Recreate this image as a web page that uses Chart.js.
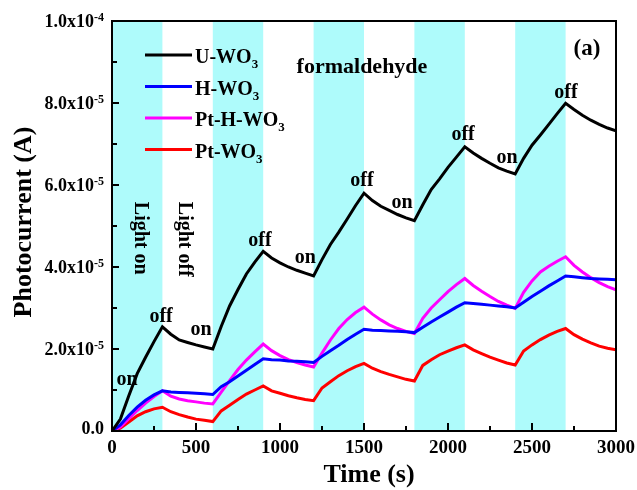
<!DOCTYPE html>
<html>
<head>
<meta charset="utf-8">
<title>Photocurrent vs time</title>
<script src="https://cdn.jsdelivr.net/npm/chart.js@4.4.0/dist/chart.umd.min.js"></script>
<style>
  html, body { margin: 0; padding: 0; background: #fff; }
  #wrap { width: 637px; height: 490px; }
</style>
</head>
<body>
<div id="wrap"><canvas id="photoChart" width="637" height="490"></canvas></div>
<script>
// sampling times (s)
const times = [0, 50, 100, 150, 200, 250, 300, 350, 400, 450, 500, 550, 600,
  650, 700, 750, 800, 850, 900, 950, 1000, 1050, 1100, 1150, 1200,
  1250, 1300, 1350, 1400, 1450, 1500, 1550, 1600, 1650, 1700, 1750, 1800,
  1850, 1900, 1950, 2000, 2050, 2100, 2150, 2200, 2250, 2300, 2350, 2400,
  2450, 2500, 2550, 2600, 2650, 2700, 2750, 2800, 2850, 2900, 2950, 3000];

// photocurrent, in units of 1e-5 A
const uWO3 = [0, 0.29, 0.86, 1.40, 1.80, 2.18, 2.54, 2.36, 2.22, 2.16, 2.10, 2.05, 2.00,
  2.55, 3.05, 3.45, 3.83, 4.12, 4.38, 4.22, 4.10, 4.00, 3.92, 3.85, 3.78,
  4.18, 4.55, 4.85, 5.17, 5.50, 5.80, 5.62, 5.48, 5.38, 5.28, 5.20, 5.13,
  5.52, 5.89, 6.15, 6.43, 6.68, 6.93, 6.78, 6.65, 6.53, 6.42, 6.34, 6.27,
  6.65, 6.97, 7.22, 7.48, 7.74, 7.99, 7.84, 7.70, 7.58, 7.48, 7.39, 7.32];
const hWO3 = [0, 0.15, 0.38, 0.58, 0.75, 0.88, 0.98, 0.95, 0.94, 0.93, 0.92, 0.91, 0.89,
  1.08, 1.20, 1.34, 1.48, 1.62, 1.76, 1.74, 1.73, 1.71, 1.70, 1.69, 1.67,
  1.82, 1.96, 2.09, 2.23, 2.36, 2.48, 2.46, 2.45, 2.44, 2.43, 2.42, 2.40,
  2.53, 2.66, 2.78, 2.90, 3.02, 3.13, 3.11, 3.09, 3.07, 3.05, 3.03, 3.00,
  3.14, 3.28, 3.41, 3.54, 3.66, 3.78, 3.76, 3.74, 3.72, 3.71, 3.70, 3.69];
const ptHWO3 = [0, 0.10, 0.30, 0.50, 0.68, 0.84, 0.98, 0.85, 0.78, 0.74, 0.71, 0.68, 0.66,
  0.95, 1.23, 1.50, 1.73, 1.93, 2.12, 1.96, 1.84, 1.74, 1.67, 1.61, 1.56,
  1.90, 2.22, 2.50, 2.72, 2.89, 3.02, 2.85, 2.71, 2.59, 2.50, 2.43, 2.38,
  2.75, 3.00, 3.20, 3.40, 3.57, 3.72, 3.55, 3.41, 3.28, 3.16, 3.07, 2.99,
  3.38, 3.66, 3.88, 4.02, 4.14, 4.25, 4.04, 3.88, 3.74, 3.62, 3.52, 3.44];
const ptWO3 = [0, 0.07, 0.22, 0.37, 0.47, 0.54, 0.58, 0.47, 0.40, 0.34, 0.29, 0.26, 0.23,
  0.49, 0.63, 0.77, 0.90, 1.00, 1.10, 0.98, 0.92, 0.86, 0.81, 0.77, 0.74,
  1.05, 1.20, 1.35, 1.47, 1.57, 1.65, 1.53, 1.45, 1.38, 1.32, 1.26, 1.22,
  1.60, 1.74, 1.86, 1.95, 2.03, 2.10, 1.98, 1.89, 1.80, 1.73, 1.66, 1.61,
  1.95, 2.10, 2.23, 2.34, 2.43, 2.50, 2.35, 2.24, 2.15, 2.07, 2.02, 1.98];

const seriesNames = ['U-WO3', 'H-WO3', 'Pt-H-WO3', 'Pt-WO3'];
const seriesValues = [uWO3, hWO3, ptHWO3, ptWO3];
const seriesColors = ['#000000', '#0000ff', '#ff00ff', '#ff0000'];

// illuminated intervals (s)
const lightOn = [[0, 300], [600, 900], [1200, 1500], [1800, 2100], [2400, 2700]];

// switch notes along the U-WO3 curve: [time, current(1e-5 A)]
const offNotes = [[292, 2.66], [881, 4.51], [1488, 5.98], [2090, 7.10], [2702, 8.12]];
const onNotes = [[90, 1.12], [530, 2.34], [1150, 4.10], [1726, 5.44], [2351, 6.54]];

const serif = '"Liberation Serif", "Times New Roman", serif';
const bold = size => `bold ${size}px ${serif}`;

function sciParts(v) {
  if (Math.abs(v) < 1e-12) return ['0.0', ''];
  const exp = Math.floor(Math.log10(v) + 1e-9);
  const man = v / Math.pow(10, exp);
  return [man.toFixed(1) + 'x10', String(exp)];
}

const decor = {
  id: 'decor',
  beforeDatasetsDraw(chart) {
    const { ctx, chartArea: a, scales: { x } } = chart;
    ctx.save();
    ctx.fillStyle = '#aefbfb';
    lightOn.forEach(([s, e]) => {
      const x0 = x.getPixelForValue(s), x1 = x.getPixelForValue(e);
      ctx.fillRect(x0, a.top, x1 - x0, a.bottom - a.top);
    });
    ctx.restore();
  },
  afterDatasetsDraw(chart) {
    const { ctx, chartArea: a, scales: { x, y } } = chart;
    ctx.save();

    // frame
    ctx.strokeStyle = '#000';
    ctx.lineWidth = 2;
    ctx.strokeRect(a.left, a.top, a.right - a.left, a.bottom - a.top);

    // inward ticks
    ctx.beginPath();
    const yt = y.ticks.map(t => t.value);
    yt.forEach((v, i) => {
      const py = Math.round(y.getPixelForValue(v));
      ctx.moveTo(a.left, py); ctx.lineTo(a.left + 7, py);
      if (i < yt.length - 1) {
        const pm = Math.round(y.getPixelForValue((v + yt[i + 1]) / 2));
        ctx.moveTo(a.left, pm); ctx.lineTo(a.left + 5, pm);
      }
    });
    const xt = x.ticks.map(t => t.value);
    xt.forEach((v, i) => {
      const px = Math.round(x.getPixelForValue(v));
      ctx.moveTo(px, a.bottom); ctx.lineTo(px, a.bottom - 8);
      if (i < xt.length - 1) {
        const pm = Math.round(x.getPixelForValue((v + xt[i + 1]) / 2));
        ctx.moveTo(pm, a.bottom); ctx.lineTo(pm, a.bottom - 5);
      }
    });
    ctx.stroke();

    // tick labels
    ctx.fillStyle = '#000';
    ctx.textBaseline = 'alphabetic';
    yt.forEach(v => {
      const py = y.getPixelForValue(v);
      const [main, sup] = sciParts(v);
      const right = a.left - 8;
      ctx.font = bold(12);
      const sw = sup ? ctx.measureText(sup).width : 0;
      if (sup) {
        ctx.textAlign = 'left';
        ctx.fillText(sup, right - sw, py);
      }
      ctx.font = bold(18);
      ctx.textAlign = 'right';
      ctx.fillText(main, right - sw, py + (sup ? 6 : 3));
    });
    ctx.font = bold(19);
    ctx.textAlign = 'center';
    xt.forEach(v => ctx.fillText(String(v), x.getPixelForValue(v), a.bottom + 22));

    // axis titles
    ctx.font = bold(26);
    ctx.fillText('Time (s)', (a.left + a.right) / 2 + 5, 482);
    ctx.save();
    ctx.translate(31, (a.top + a.bottom) / 2 - 4);
    ctx.rotate(-Math.PI / 2);
    ctx.textBaseline = 'alphabetic';
    ctx.fillText('Photocurrent (A)', 0, 0);
    ctx.restore();

    // on / off notes
    ctx.font = bold(20);
    ctx.textAlign = 'center';
    offNotes.forEach(([t, v]) => ctx.fillText('off', x.getPixelForValue(t), y.getPixelForValue(v * 1e-5)));
    onNotes.forEach(([t, v]) => ctx.fillText('on', x.getPixelForValue(t), y.getPixelForValue(v * 1e-5)));

    ctx.font = bold(22);
    ctx.fillText('formaldehyde', x.getPixelForValue(1488), y.getPixelForValue(8.73e-5));
    ctx.font = bold(23);
    ctx.fillText('(a)', x.getPixelForValue(2827), y.getPixelForValue(9.17e-5));

    // vertical light labels
    ctx.font = bold(20);
    ctx.textAlign = 'left';
    ctx.textBaseline = 'middle';
    [['Light on', 167], ['Light off', 429]].forEach(([txt, t]) => {
      ctx.save();
      ctx.translate(x.getPixelForValue(t), y.getPixelForValue(5.59e-5));
      ctx.rotate(Math.PI / 2);
      ctx.fillText(txt, 0, 0);
      ctx.restore();
    });

    // legend inside the plot
    ctx.textBaseline = 'alphabetic';
    chart.data.datasets.forEach((ds, i) => {
      const ly = a.top + 34 + i * 31.5;
      const lx = a.left + 33;
      ctx.strokeStyle = ds.borderColor;
      ctx.lineWidth = 3;
      ctx.beginPath();
      ctx.moveTo(lx, ly); ctx.lineTo(lx + 47, ly);
      ctx.stroke();
      const main = ds.label.slice(0, -1), sub = ds.label.slice(-1);
      ctx.font = bold(20);
      ctx.fillStyle = '#000';
      ctx.fillText(main, lx + 50, ly + 8);
      const mw = ctx.measureText(main).width;
      ctx.font = bold(13);
      ctx.fillText(sub, lx + 50 + mw, ly + 13);
    });

    ctx.restore();
  }
};

const datasets = seriesNames.map((name, i) => ({
  label: name,
  data: times.map((t, k) => ({ x: t, y: seriesValues[i][k] * 1e-5 })),
  borderColor: seriesColors[i],
  backgroundColor: seriesColors[i],
  borderWidth: 3,
  pointRadius: 0,
  tension: 0,
  fill: false
}));

new Chart(document.getElementById('photoChart'), {
  type: 'line',
  data: { datasets },
  options: {
    responsive: false,
    animation: false,
    layout: { padding: { top: 21, right: 21, left: 0, bottom: 0 } },
    plugins: { legend: { display: false }, tooltip: { enabled: false } },
    scales: {
      x: {
        type: 'linear', min: 0, max: 3000,
        ticks: { stepSize: 500, display: false },
        grid: { display: false }, border: { display: false },
        afterFit: s => { s.height = 59; }
      },
      y: {
        min: 0, max: 1e-4,
        ticks: { stepSize: 2e-5, display: false },
        grid: { display: false }, border: { display: false },
        afterFit: s => { s.width = 112; }
      }
    }
  },
  plugins: [decor]
});
</script>
</body>
</html>
